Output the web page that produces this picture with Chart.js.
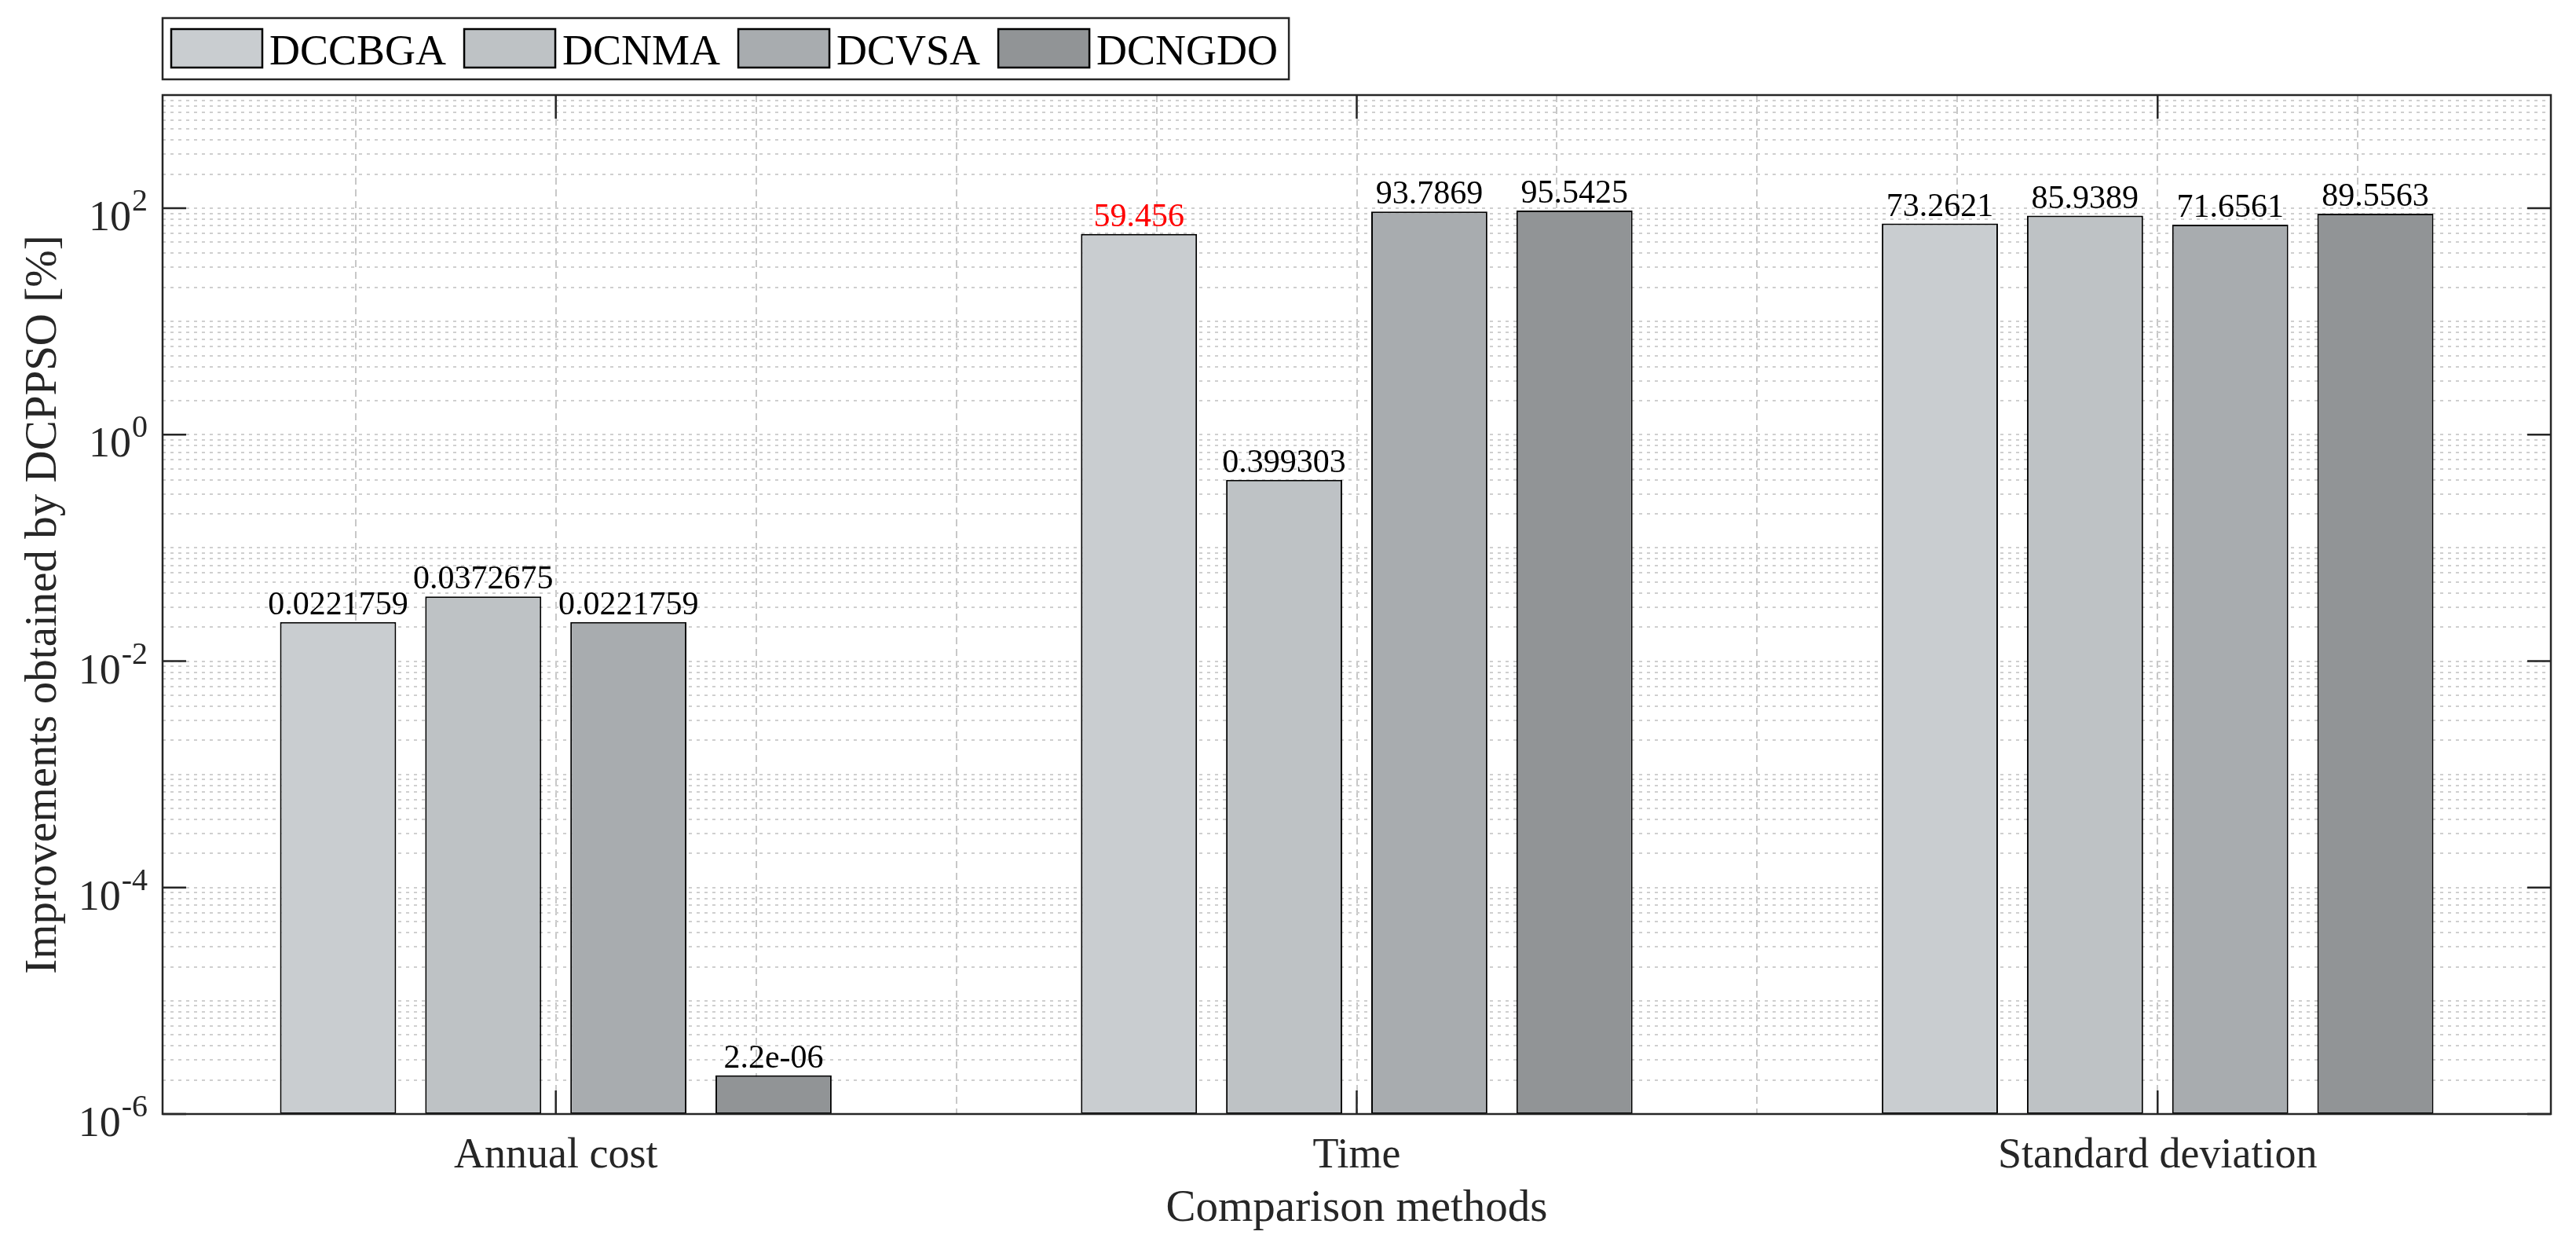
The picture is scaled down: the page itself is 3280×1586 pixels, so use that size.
<!DOCTYPE html>
<html>
<head>
<meta charset="utf-8">
<script src="https://cdn.jsdelivr.net/npm/chart.js@4.4.1/dist/chart.umd.min.js"></script>
<style>
  html, body { margin: 0; padding: 0; background: #fff; }
  #chart { display: block; }
</style>
</head>
<body>
<canvas id="chart" width="3280" height="1586" style="width:3280px;height:1586px"></canvas>
<script>
var categories = ['Annual cost', 'Time', 'Standard deviation'];
var categoryPos = [1, 2, 3];
var seriesNames = ['DCCBGA', 'DCNMA', 'DCVSA', 'DCNGDO'];
var seriesColors = ['#c9cdd0', '#bec2c5', '#a8acaf', '#919496'];
var dccbga = [0.0221759, 59.456, 73.2621];
var dcnma = [0.0372675, 0.399303, 85.9389];
var dcvsa = [0.0221759, 93.7869, 71.6561];
var dcngdo = [2.2e-06, 95.5425, 89.5563];
var redLabels = [{ series: 0, cat: 1 }];
var xLimits = [0.509, 3.491];
var xGridStep = 0.25;
var yTickExps = [-6, -4, -2, 0, 2];
var yMinExp = -6, yMaxExp = 3;

var SERIF = '"Liberation Serif", "Times New Roman", serif';
var INK = '#262626';

function fmtValue(v) {
  if (v < 1e-4) {
    var s = v.toExponential(1).split('e');
    var ex = parseInt(s[1], 10);
    var sign = ex < 0 ? '-' : '+';
    var digits = Math.abs(ex) < 10 ? '0' + Math.abs(ex) : '' + Math.abs(ex);
    return s[0] + 'e' + sign + digits;
  }
  return String(v);
}

// grid values 1..9 x 10^n over the whole log range
var yGridValues = [];
for (var e = yMinExp; e < yMaxExp; e++) {
  for (var m = 1; m <= 9; m++) yGridValues.push(m * Math.pow(10, e));
}
yGridValues.push(Math.pow(10, yMaxExp));

// vertical grid every quarter unit inside the limits
var xGridValues = [];
for (var g = Math.ceil(xLimits[0] / xGridStep) * xGridStep; g <= xLimits[1]; g += xGridStep) {
  xGridValues.push(g);
}

var matlabLook = {
  id: 'matlabLook',
  afterDatasetsDraw: function(chart) {
    var ctx = chart.ctx;
    ctx.save();
    ctx.font = '42px ' + SERIF;
    ctx.textAlign = 'center';
    ctx.textBaseline = 'alphabetic';
    chart.data.datasets.forEach(function(ds, di) {
      var meta = chart.getDatasetMeta(di);
      meta.data.forEach(function(bar, ci) {
        var red = redLabels.some(function(r) { return r.series === di && r.cat === ci; });
        ctx.fillStyle = red ? '#ff0000' : '#000000';
        ctx.fillText(fmtValue(ds.data[ci].y), bar.x, bar.y - 10);
      });
    });
    ctx.restore();
  },
  afterDraw: function(chart) {
    var ctx = chart.ctx;
    var a = chart.chartArea;
    var xs = chart.scales.x, ys = chart.scales.y;
    ctx.save();

    // inward ticks
    ctx.strokeStyle = INK;
    ctx.lineWidth = 2.5;
    ctx.beginPath();
    categoryPos.forEach(function(p) {
      var px = xs.getPixelForValue(p);
      ctx.moveTo(px, a.bottom); ctx.lineTo(px, a.bottom - 30);
      ctx.moveTo(px, a.top); ctx.lineTo(px, a.top + 30);
    });
    yTickExps.forEach(function(ex) {
      var py = ys.getPixelForValue(Math.pow(10, ex));
      ctx.moveTo(a.left, py); ctx.lineTo(a.left + 30, py);
      ctx.moveTo(a.right, py); ctx.lineTo(a.right - 30, py);
    });
    ctx.stroke();

    // box
    ctx.strokeRect(a.left, a.top, a.right - a.left, a.bottom - a.top);

    // category labels
    ctx.fillStyle = INK;
    ctx.font = '54px ' + SERIF;
    ctx.textAlign = 'center';
    ctx.textBaseline = 'alphabetic';
    categoryPos.forEach(function(p, i) {
      ctx.fillText(categories[i], xs.getPixelForValue(p), a.bottom + 68);
    });

    // y tick labels 10^n
    ctx.textAlign = 'right';
    yTickExps.forEach(function(ex) {
      var py = ys.getPixelForValue(Math.pow(10, ex));
      var xr = a.left - 19;
      ctx.font = '40px ' + SERIF;
      var expText = String(ex);
      var w = ctx.measureText(expText).width;
      ctx.fillText(expText, xr, py + 3);
      ctx.font = '54px ' + SERIF;
      ctx.fillText('10', xr - w - 1, py + 28);
    });

    // legend
    ctx.font = '54px ' + SERIF;
    ctx.textAlign = 'left';
    var lx = a.left + 11;
    var boxTop = 23, boxH = 78;
    chart.data.datasets.forEach(function(ds) {
      ctx.fillStyle = ds.backgroundColor;
      ctx.fillRect(lx, boxTop + 14, 116, 49);
      ctx.strokeStyle = '#000';
      ctx.lineWidth = 2.5;
      ctx.strokeRect(lx, boxTop + 14, 116, 49);
      ctx.fillStyle = '#000';
      var tx = lx + 116 + 9;
      ctx.fillText(ds.label, tx, boxTop + 59);
      lx = tx + ctx.measureText(ds.label).width + 23;
    });
    ctx.strokeStyle = INK;
    ctx.lineWidth = 2.5;
    ctx.strokeRect(a.left, boxTop, lx - 23 + 14 - a.left, boxH);
    ctx.restore();
  }
};

var seriesData = [dccbga, dcnma, dcvsa, dcngdo];
var datasets = seriesNames.map(function(name, i) {
  return {
    label: name,
    data: seriesData[i].map(function(v, j) { return { x: categoryPos[j], y: v }; }),
    backgroundColor: seriesColors[i],
    borderColor: '#000000',
    borderWidth: 2,
    borderSkipped: false,
    categoryPercentage: 0.725,
    barPercentage: 0.8
  };
});

new Chart(document.getElementById('chart'), {
  type: 'bar',
  data: { datasets: datasets },
  plugins: [matlabLook],
  options: {
    responsive: false,
    devicePixelRatio: 1,
    animation: false,
    layout: { padding: { top: 121, right: 32, left: 0, bottom: 0 } },
    plugins: { legend: { display: false }, tooltip: { enabled: false } },
    scales: {
      x: {
        type: 'linear',
        min: xLimits[0],
        max: xLimits[1],
        offset: false,
        afterBuildTicks: function(s) {
          s.ticks = categoryPos.map(function(v) { return { value: v }; });
        },
        ticks: { display: false, autoSkip: false },
        grid: { display: false, offset: false },
        border: { display: false },
        title: { display: true, text: 'Comparison methods', color: INK, font: { family: SERIF, size: 57 }, padding: { top: 0, bottom: 13 } },
        afterFit: function(s) { s.height = 168; }
      },
      xg: {
        type: 'linear',
        position: 'bottom',
        min: xLimits[0],
        max: xLimits[1],
        offset: false,
        afterBuildTicks: function(s) {
          s.ticks = xGridValues.map(function(v) { return { value: v }; });
        },
        ticks: { display: false, autoSkip: false },
        grid: { offset: false, color: '#c8c8c8', lineWidth: 2, drawTicks: false },
        border: { display: false, dash: [9, 6] },
        afterFit: function(s) { s.height = 0; }
      },
      y: {
        type: 'logarithmic',
        min: Math.pow(10, yMinExp),
        max: Math.pow(10, yMaxExp),
        afterBuildTicks: function(s) {
          s.ticks = yGridValues.map(function(v) { return { value: v }; });
        },
        ticks: { autoSkip: false, callback: function() { return ''; } },
        grid: { color: '#cfcfcf', lineWidth: 2, drawTicks: false },
        border: { display: false, dash: [4, 6] },
        title: { display: true, text: 'Improvements obtained by DCPPSO [%]', color: INK, font: { family: SERIF, size: 57 }, padding: { top: 22, bottom: 0 } },
        afterFit: function(s) { s.width = 207; }
      }
    }
  }
});
</script>
</body>
</html>
